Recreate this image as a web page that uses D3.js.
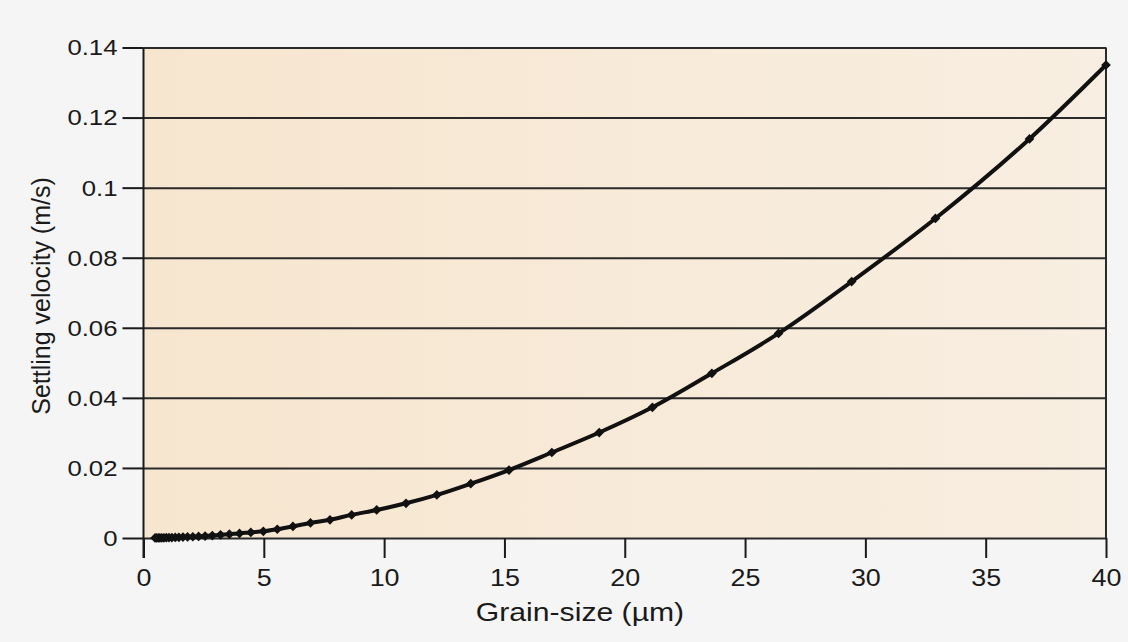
<!DOCTYPE html>
<html>
<head>
	<meta charset="utf-8">
	<script src="https://cdn.jsdelivr.net/npm/d3@7"></script>
	<style>
		body { margin: 0; background: #f5f5f5; }
		text { font-family: "Liberation Sans", Arial, sans-serif; fill: #1a1a1a; }
	</style>
</head>
<body>
	<svg width="1128" height="642"></svg>

	<script>
		// grain size (um) and settling velocity (m/s)
		var grainSize = [0.48, 0.54, 0.61, 0.68, 0.76, 0.85, 0.95, 1.06, 1.18, 1.32, 1.47, 1.64, 1.83, 2.05,
			2.29, 2.56, 2.86, 3.2, 3.57, 3.99, 4.46, 4.98, 5.56, 6.21, 6.94, 7.75, 8.65, 9.69, 10.91, 12.19,
			13.6, 15.19, 16.97, 18.94, 21.15, 23.62, 26.39, 29.43, 32.91, 36.82, 40.0];
		var velocity = [0.00002, 0.00002, 0.00003, 0.00004, 0.00005, 0.00006, 0.00008, 0.0001, 0.00013, 0.00016,
			0.0002, 0.00025, 0.0003, 0.00035, 0.00045, 0.00055, 0.0007, 0.0009, 0.0011, 0.0013, 0.0016, 0.0019,
			0.0025, 0.0033, 0.0043, 0.0052, 0.0066, 0.008, 0.0099, 0.0123, 0.0155, 0.0194, 0.0244, 0.0301,
			0.0373, 0.047, 0.0584, 0.0732, 0.0912, 0.1139, 0.135];
		var xTicks = [0, 5, 10, 15, 20, 25, 30, 35, 40];
		var yTicks = [0, 0.02, 0.04, 0.06, 0.08, 0.1, 0.12, 0.14];

		var data = grainSize.map(function(g, i) { return { x: g, y: velocity[i] }; });

		var svg = d3.select('svg');
		var plotL = 143.5, plotR = 1106, plotT = 47.5, plotB = 538;
		var stretch = 1.12;

		var x = d3.scaleLinear().domain([0, 40]).range([plotL, plotR]);
		var y = d3.scaleLinear().domain([0, 0.14]).range([plotB, plotT]);

		// plot background, a bit warmer on the left
		var grad = svg.append('defs').append('linearGradient').attr('id', 'bg');
		grad.append('stop').attr('offset', '0%').attr('stop-color', '#f7e6cf');
		grad.append('stop').attr('offset', '100%').attr('stop-color', '#f8eee1');
		svg.append('rect')
			.attr('x', plotL).attr('y', plotT)
			.attr('width', plotR - plotL).attr('height', plotB - plotT)
			.attr('fill', 'url(#bg)');

		// horizontal grid
		svg.append('g')
			.attr('transform', 'translate(' + plotL + ',0)')
			.call(d3.axisLeft(y).tickValues(yTicks).tickSize(-(plotR - plotL)).tickFormat(''))
			.call(function(g) {
				g.select('.domain').remove();
				g.selectAll('line').attr('stroke', '#2a2a2a').attr('stroke-width', 2);
			});

		// right frame
		svg.append('line')
			.attr('x1', plotR).attr('x2', plotR)
			.attr('y1', plotT).attr('y2', plotB)
			.attr('stroke', '#2a2a2a').attr('stroke-width', 2);

		// y axis
		svg.append('g')
			.attr('transform', 'translate(' + plotL + ',0)')
			.call(d3.axisLeft(y).tickValues(yTicks).tickSize(21)
				.tickFormat(function(d) { return String(+d.toFixed(2)); }))
			.call(function(g) {
				g.select('.domain').remove();
				g.selectAll('line').attr('stroke', '#1a1a1a').attr('stroke-width', 2);
				g.selectAll('text')
					.attr('font-size', 23)
					.attr('x', -26 / stretch)
					.attr('transform', 'scale(' + stretch + ',1)');
			});

		// x axis
		svg.append('g')
			.attr('transform', 'translate(0,' + plotB + ')')
			.call(d3.axisBottom(x).tickValues(xTicks).tickSize(20))
			.call(function(g) {
				g.select('.domain').remove();
				g.selectAll('line').attr('stroke', '#1a1a1a').attr('stroke-width', 2);
				g.selectAll('text')
					.attr('font-size', 24)
					.attr('y', 31)
					.attr('transform', 'scale(' + stretch + ',1)');
			});

		// left axis line, running past the zero line
		svg.append('line')
			.attr('x1', plotL).attr('x2', plotL)
			.attr('y1', plotT).attr('y2', plotB + 20)
			.attr('stroke', '#1a1a1a').attr('stroke-width', 2);

		// curve
		var line = d3.line()
			.x(function(d) { return x(d.x); })
			.y(function(d) { return y(d.y); })
			.curve(d3.curveMonotoneX);

		svg.append('path')
			.datum(data)
			.attr('d', line)
			.attr('fill', 'none')
			.attr('stroke', '#111')
			.attr('stroke-width', 4)
			.attr('stroke-linejoin', 'round');

		svg.append('g')
			.selectAll('path')
			.data(data)
			.enter()
			.append('path')
			.attr('transform', function(d) { return 'translate(' + x(d.x) + ',' + y(d.y) + ')'; })
			.attr('d', d3.symbol(d3.symbolDiamond2, 60))
			.attr('fill', '#111');

		// axis titles
		svg.append('text')
			.attr('transform', 'translate(580,621) scale(1.16,1)')
			.attr('text-anchor', 'middle')
			.attr('font-size', 26)
			.text('Grain-size (\u00b5m)');

		svg.append('text')
			.attr('transform', 'translate(50,296) rotate(-90)')
			.attr('text-anchor', 'middle')
			.attr('font-size', 25)
			.text('Settling velocity (m/s)');
	</script>
</body>
</html>
